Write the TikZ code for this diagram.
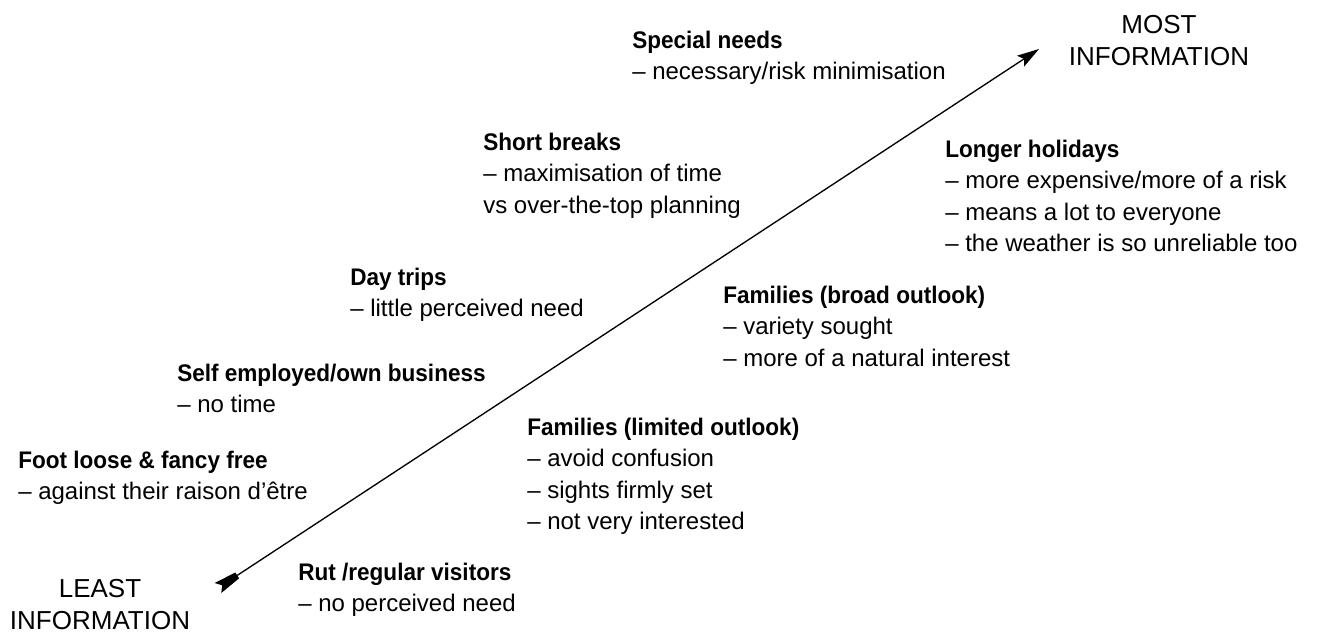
\documentclass[tikz,border=0pt]{standalone}
\usepackage{fontspec}
\setmainfont{Liberation Sans}[BoldFeatures={FakeStretch=0.94}]

\begin{document}
\begin{tikzpicture}[x=0.75pt,y=-0.75pt]
		\tikzstyle{every node}+=[inner sep=0pt]
		\tikzstyle{segtext}=[anchor=base west, align=left, font=\fontsize{18}{23.6}\selectfont]
		\tikzstyle{endtext}=[anchor=base, align=center, font=\fontsize{19.5}{24}\selectfont]
		\useasboundingbox (0,0) rectangle (1317,633);
		\coordinate (lo) at (237.2,575.4);
		\coordinate (hi) at (1024.0,58.9);
		\draw [black, line width=1pt] (lo) -- (hi);
		\fill [black] (1039,49) -- (1024.2,66.5) -- (1024.0,58.9) -- (1017.0,55.7) -- cycle;
		\fill [black] (214.7,583.0) -- (222.2,585.3) -- (221.3,593.0) -- (239.1,578.3) -- (235.3,572.5) -- cycle;
		\node [endtext] (least) at (100,629) {LEAST\\INFORMATION};
		\node [endtext] (most) at (1159,65) {MOST\\INFORMATION};
		\node [segtext] (special) at (632,79.5) {\textbf{Special needs}\\– necessary/risk minimisation};
		\node [segtext] (short) at (483,213) {\textbf{Short breaks}\\– maximisation of time\\vs over-the-top planning};
		\node [segtext] (longer) at (945,251.5) {\textbf{Longer holidays}\\– more expensive/more of a risk\\– means a lot to everyone\\– the weather is so unreliable too};
		\node [segtext] (daytrips) at (350,316.5) {\textbf{Day trips}\\– little perceived need};
		\node [segtext] (broad) at (723,366) {\textbf{Families (broad outlook)}\\– variety sought\\– more of a natural interest};
		\node [segtext] (selfemp) at (177,412.5) {\textbf{Self employed/own business}\\– no time};
		\node [segtext] (limited) at (527,529.5) {\textbf{Families (limited outlook)}\\– avoid confusion\\– sights firmly set\\– not very interested};
		\node [segtext] (footloose) at (18,499.5) {\textbf{Foot loose \& fancy free}\\– against their raison d’être};
		\node [segtext] (rut) at (298,611.5) {\textbf{Rut /regular visitors}\\– no perceived need};
	\end{tikzpicture}
\end{document}
